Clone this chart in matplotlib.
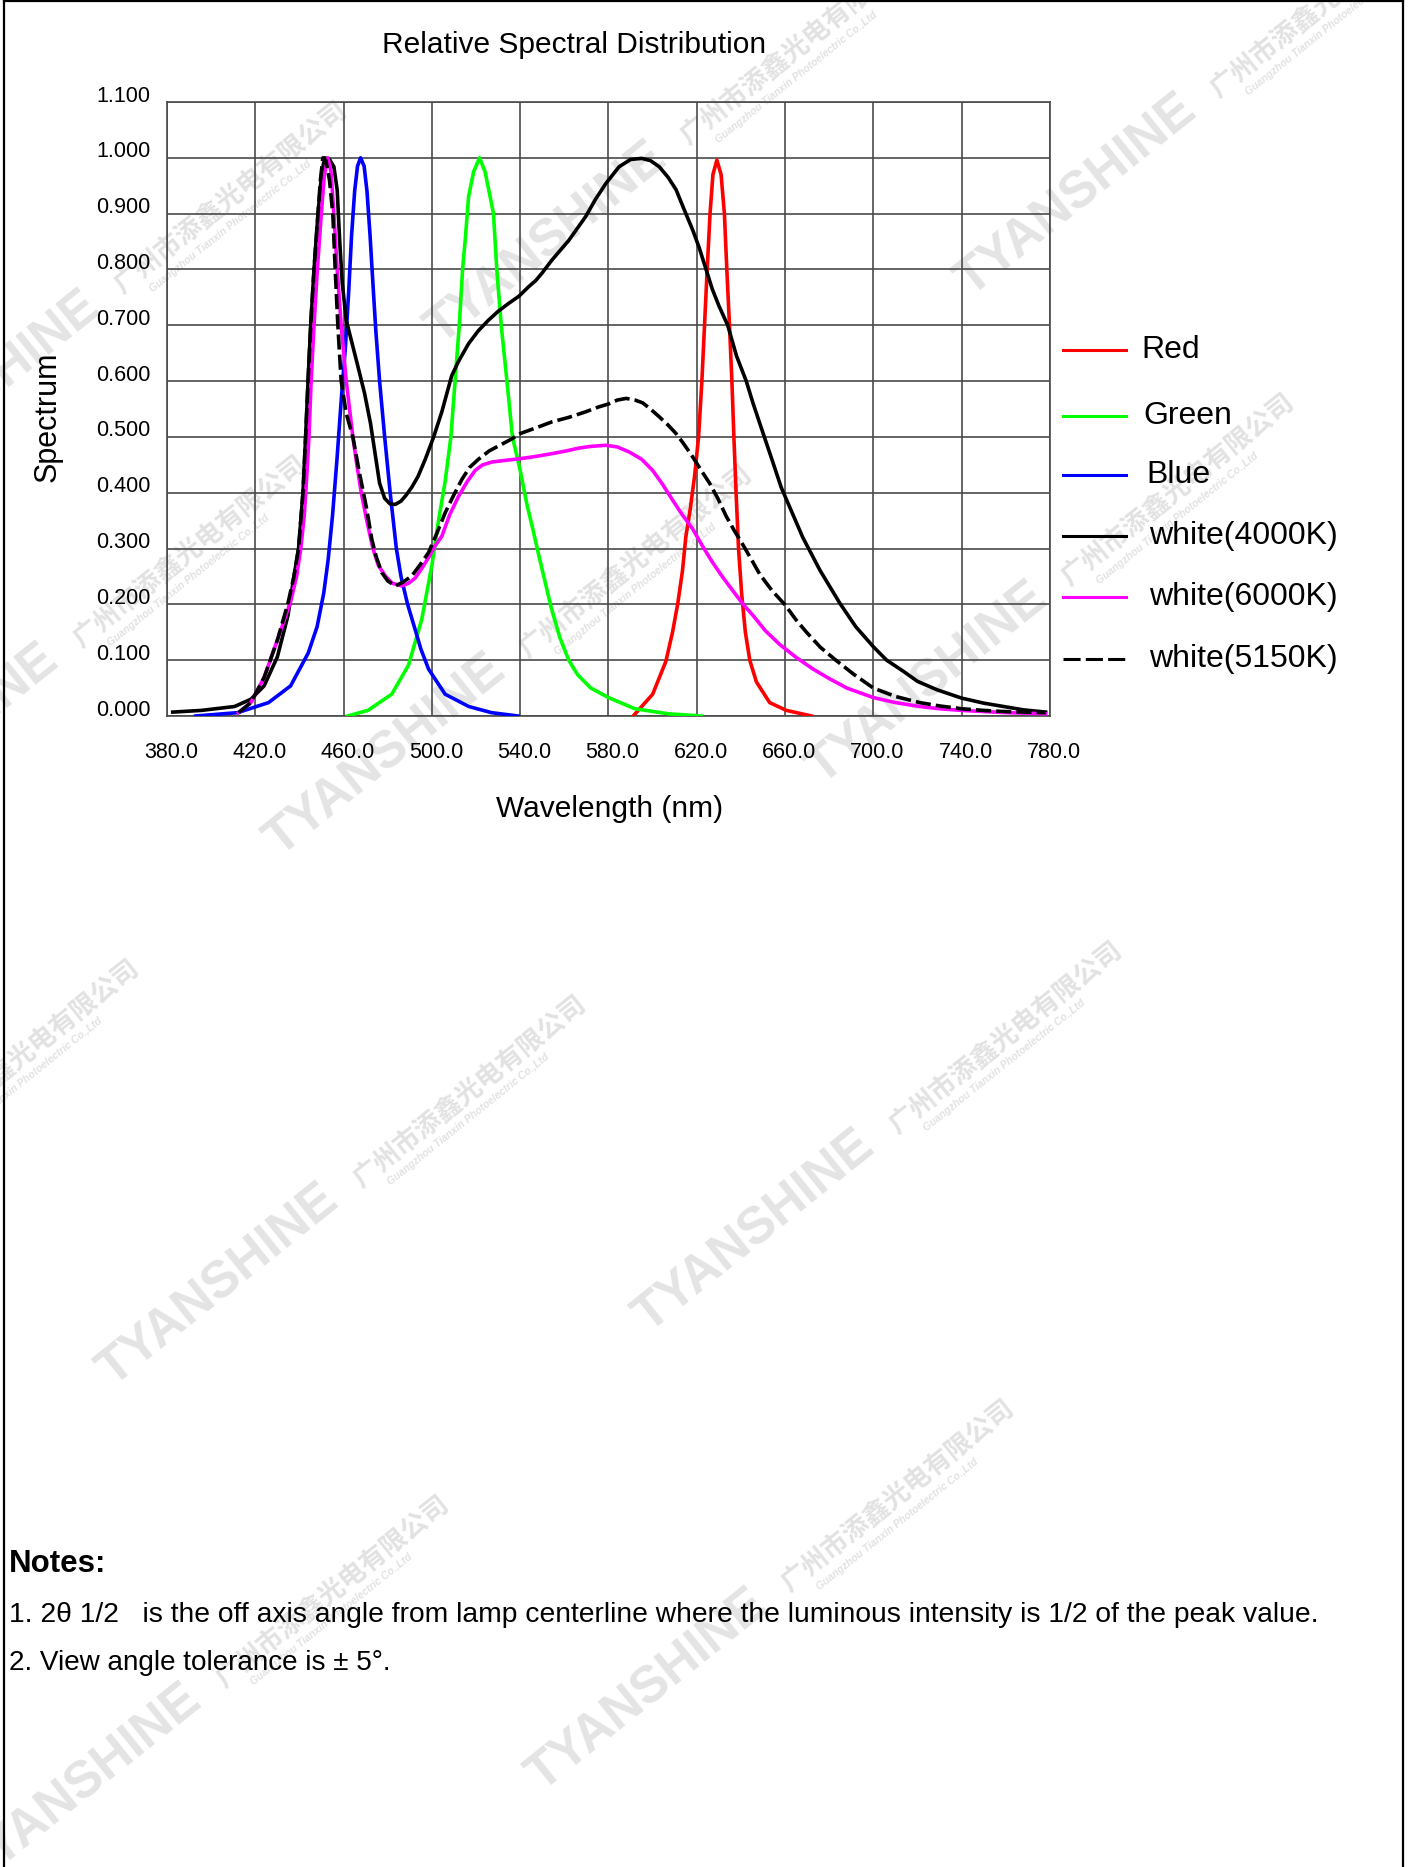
import numpy as np
import matplotlib
matplotlib.use("Agg")
import matplotlib.pyplot as plt
from matplotlib.lines import Line2D
from matplotlib.transforms import ScaledTranslation

# ---------------- data ----------------
blue_x = [393, 412, 426, 436, 444, 448, 451, 453, 455, 457, 459, 460.8, 462.3, 463.6, 465, 466.3, 467.7,
          469.3, 470.6, 472, 473.2, 474.6, 476.3, 478.6, 481.1, 483.9, 486, 489, 492.4, 495, 498.5, 506,
          516.7, 527, 539]
blue_y = [0.0, 0.006, 0.024, 0.054, 0.113, 0.16, 0.22, 0.28, 0.36, 0.46, 0.57, 0.66, 0.76, 0.86, 0.94,
          0.985, 1.0, 0.985, 0.94, 0.86, 0.78, 0.69, 0.6, 0.5, 0.4, 0.3, 0.25, 0.2, 0.155, 0.12, 0.084,
          0.039, 0.017, 0.006, 0.0]

green_x = [461.8, 471, 481.8, 489.4, 495.4, 500, 503, 506, 508.6, 510.5, 512.4, 513.9, 515.1, 516.6,
           518.9, 521.6, 524.1, 526.4, 527.9, 529.4, 531.4, 534, 536.5, 540, 543, 546, 548.3, 551, 554,
           558, 562, 566, 572, 580, 592, 607, 622]
green_y = [0.0, 0.01, 0.039, 0.091, 0.173, 0.27, 0.35, 0.42, 0.5, 0.6, 0.7, 0.8, 0.853, 0.93, 0.975,
           1.0, 0.975, 0.93, 0.9, 0.8, 0.7, 0.6, 0.5, 0.44, 0.38, 0.33, 0.29, 0.245, 0.195, 0.14, 0.1,
           0.074, 0.05, 0.033, 0.013, 0.004, 0.0]

red_x = [591.2, 600, 606, 609, 611.4, 613.5, 615, 617, 619, 620.8, 622.3, 623.5, 624.7, 626, 627.3,
         629.1, 631, 632.5, 633.6, 634.8, 635.9, 636.8, 637.8, 638.9, 640.3, 642, 644, 647, 653, 660.6,
         672]
red_y = [0.0, 0.039, 0.098, 0.15, 0.202, 0.26, 0.32, 0.37, 0.43, 0.5, 0.6, 0.7, 0.8, 0.9, 0.97, 0.996,
         0.97, 0.9, 0.8, 0.7, 0.6, 0.5, 0.4, 0.3, 0.22, 0.15, 0.1, 0.061, 0.024, 0.01, 0.0]

w4000_x = [382.6, 395.5, 410.6, 418, 424, 430, 434.8, 437.5, 439.6, 441.6, 442.8, 443.9, 445.1, 446.6,
           448.4, 450, 451.4, 453.5, 455.6, 457.1, 458.2, 459.4, 461.2, 463.5, 466.5, 469.5, 472.2,
           474.5, 476.3, 478.6, 481, 483.4, 486, 488.4, 490.9, 493.7, 497, 500.8, 504.5, 509, 512,
           516.6, 521, 525.6, 530, 534.7, 539.4, 543.8, 547, 549.8, 554.4, 562, 569.7, 574, 578.8,
           584.8, 590, 595, 599, 603, 607, 610.6, 614, 618.2, 621, 624.2, 627, 630, 634, 638, 642.4,
           645.5, 649.9, 654, 658.2, 662, 668, 675.8, 684.8, 692, 700, 706, 713.6, 720, 728.8, 740,
           750, 759, 768, 778]
w4000_y = [0.007, 0.01, 0.017, 0.03, 0.054, 0.106, 0.18, 0.25, 0.3, 0.4, 0.5, 0.6, 0.7, 0.8, 0.9, 0.97,
           1.0, 0.998, 0.984, 0.942, 0.853, 0.775, 0.709, 0.673, 0.626, 0.578, 0.524, 0.464, 0.417,
           0.39, 0.38, 0.379, 0.385, 0.396, 0.41, 0.429, 0.46, 0.5, 0.545, 0.61, 0.635, 0.667, 0.69,
           0.709, 0.725, 0.739, 0.752, 0.769, 0.78, 0.793, 0.817, 0.852, 0.895, 0.925, 0.954, 0.984,
           0.997, 0.999, 0.995, 0.984, 0.965, 0.943, 0.91, 0.87, 0.84, 0.8, 0.765, 0.735, 0.7, 0.645,
           0.6, 0.56, 0.508, 0.46, 0.41, 0.375, 0.32, 0.261, 0.202, 0.16, 0.124, 0.1, 0.08, 0.062,
           0.047, 0.032, 0.023, 0.017, 0.011, 0.007]

w6000_x = [412.4, 418, 424, 430, 433, 436, 438.7, 440.6, 442.2, 443.3, 444.3, 445.3, 446.6, 448.1,
           449.9, 451.3, 452.9, 454.3, 455.6, 457.1, 458.9, 461.2, 464.2, 466, 468, 470.5, 473.3,
           475.7, 478.9, 482, 486.4, 489.5, 492.4, 495.5, 498.5, 501.5, 504.5, 508, 512, 516, 519.6,
           523, 527.2, 533.3, 540, 547, 554.4, 561, 566.6, 572, 578.8, 584, 589.4, 595, 600, 604.5,
           609, 613.5, 618, 622.5, 627, 631.5, 636.4, 641, 645.5, 651, 657.6, 665, 672.7, 680, 688,
           700, 710, 721, 730, 740, 760, 778]
w6000_y = [0.006, 0.024, 0.069, 0.136, 0.17, 0.205, 0.25, 0.3, 0.36, 0.43, 0.5, 0.6, 0.7, 0.8, 0.9,
           0.97, 1.0, 0.975, 0.9, 0.8, 0.7, 0.6, 0.5, 0.45, 0.4, 0.35, 0.3, 0.27, 0.251, 0.238, 0.233,
           0.238, 0.247, 0.265, 0.284, 0.305, 0.322, 0.36, 0.393, 0.42, 0.44, 0.45, 0.455, 0.458,
           0.461, 0.465, 0.47, 0.475, 0.48, 0.483, 0.485, 0.482, 0.473, 0.46, 0.44, 0.415, 0.387,
           0.36, 0.336, 0.305, 0.276, 0.25, 0.224, 0.2, 0.18, 0.153, 0.128, 0.105, 0.084, 0.067, 0.05,
           0.033, 0.024, 0.017, 0.013, 0.01, 0.006, 0.004]

w5150_x = [412.4, 418, 424, 430, 434.8, 437.5, 439.6, 441.6, 442.8, 443.9, 445.1, 446.6, 448.4, 449.5,
           450.6, 452, 453.6, 455.1, 456.2, 457.4, 458.9, 461.2, 464.2, 467.2, 470.5, 472.8, 474.8,
           477.3, 480, 483.4, 487, 490.9, 494.5, 498.5, 502, 506, 509.8, 513.6, 517, 521.1, 526,
           531.7, 536, 540, 547, 554.4, 562, 569.7, 575, 580, 584, 588, 592, 595.5, 599, 603, 606.8,
           610.6, 614, 618, 622, 625.8, 629.5, 633.3, 637, 641, 644.8, 648.5, 654, 660, 665, 669.7,
           676, 683.3, 691, 700, 710, 721, 730, 740, 750, 759, 778]
w5150_y = [0.006, 0.024, 0.069, 0.136, 0.202, 0.25, 0.3, 0.4, 0.5, 0.6, 0.7, 0.8, 0.9, 0.96, 1.0,
           0.995, 0.96, 0.9, 0.8, 0.7, 0.6, 0.542, 0.5, 0.435, 0.37, 0.316, 0.285, 0.257, 0.242,
           0.233, 0.24, 0.251, 0.27, 0.293, 0.325, 0.364, 0.395, 0.424, 0.445, 0.46, 0.475, 0.487,
           0.496, 0.506, 0.516, 0.527, 0.535, 0.545, 0.553, 0.559, 0.566, 0.569, 0.566, 0.561, 0.55,
           0.536, 0.522, 0.506, 0.488, 0.465, 0.44, 0.417, 0.39, 0.358, 0.332, 0.306, 0.28, 0.254,
           0.225, 0.199, 0.172, 0.15, 0.123, 0.099, 0.075, 0.05, 0.035, 0.024, 0.018, 0.013, 0.01,
           0.008, 0.006]

series_labels = ["Red", "Green", "Blue", "white(4000K)", "white(6000K)", "white(5150K)"]
x_ticks = [380, 420, 460, 500, 540, 580, 620, 660, 700, 740, 780]
y_ticks = [0.0, 0.1, 0.2, 0.3, 0.4, 0.5, 0.6, 0.7, 0.8, 0.9, 1.0, 1.1]

title = "Relative Spectral Distribution"
xlabel = "Wavelength (nm)"
ylabel = "Spectrum"
notes_head = "Notes:"
notes = ["1. 2\u03b8 1/2   is the off axis angle from lamp centerline where the luminous intensity is 1/2 of the peak value.",
         "2. View angle tolerance is \u00b1 5\u00b0."]

# ---------------- figure ----------------
W, H = 1416, 1867
plt.rcParams['font.family'] = ['Liberation Sans', 'DejaVu Sans']
fig = plt.figure(figsize=(W / 100, H / 100), dpi=100)
fig.patch.set_facecolor('white')


def fx(px):
    return px / W


def fy(py):
    return 1 - py / H


# ---------------- watermarks ----------------
ang = 38.7
d = np.array([np.cos(np.radians(ang)), -np.sin(np.radians(ang))])
perp = np.array([np.sin(np.radians(ang)), np.cos(np.radians(ang))])
s = 1416 / 1189
anchors = [(815, 250), (235, 720), (690, 660), (95, 1165), (545, 1120), (-20, 1585),
           (455, 1505), (-105, 415), (-140, 712), (370, 290), (-280, 1135)]
for ax0, ay0 in anchors:
    p = np.array([ax0 * s, ay0 * s])
    fig.text(fx(p[0]), fy(p[1]), "TYANSHINE", rotation=ang, rotation_mode='anchor',
             ha='left', va='baseline', fontsize=37, fontweight='bold', color='#e4e4e4',
             zorder=-5)
    q = p + d * 318
    fig.text(fx(q[0]), fy(q[1]), "广州市添鑫光电有限公司", rotation=ang, rotation_mode='anchor',
             ha='left', va='baseline', fontsize=19, fontweight='bold', color='#e2e2e2',
             family=['Noto Sans CJK SC', 'DejaVu Sans'], zorder=-5)
    r = q + d * 25 + perp * 16
    fig.text(fx(r[0]), fy(r[1]), "Guangzhou Tianxin Photoelectric Co.,Ltd", rotation=ang,
             rotation_mode='anchor', ha='left', va='baseline', fontsize=7.5,
             fontweight='bold', fontstyle='italic', color='#e2e2e2', zorder=-5)

# page border
fig.add_artist(Line2D([fx(4), fx(4)], [fy(1), fy(H + 5)], color='black', lw=1.6))
fig.add_artist(Line2D([fx(1403), fx(1403)], [fy(1), fy(H + 5)], color='black', lw=1.6))
fig.add_artist(Line2D([fx(4), fx(1403)], [fy(1.5), fy(1.5)], color='black', lw=1.6))

# ---------------- axes ----------------
ax = fig.add_axes([fx(167), fy(716), fx(1050) - fx(167), fy(102) - fy(716)])
ax.patch.set_alpha(0)
ax.set_xlim(380, 780)
ax.set_ylim(0, 1.1)
ax.set_xticks(x_ticks)
ax.set_yticks(y_ticks)
ax.set_xticklabels([f"{v:.1f}" for v in x_ticks], fontsize=15.5)
ax.set_yticklabels([f"{v:.3f}" for v in y_ticks], fontsize=15.5)
ax.tick_params(length=0)
ax.tick_params(axis='y', pad=12)
ax.tick_params(axis='x', pad=19)
ax.grid(True, color='#4a4a4a', lw=1.2)
ax.set_axisbelow(True)
for sp in ax.spines.values():
    sp.set_color('#4a4a4a')
    sp.set_linewidth(1.2)

for lab in ax.get_yticklabels():
    lab.set_transform(lab.get_transform() + ScaledTranslation(0, 8.5 / 100, fig.dpi_scale_trans))
for lab in ax.get_xticklabels():
    lab.set_transform(lab.get_transform() + ScaledTranslation(4 / 100, 0, fig.dpi_scale_trans))

lw = 2.6
ax.plot(red_x, red_y, color='#ff0000', lw=lw, zorder=3, solid_joinstyle='round')
ax.plot(green_x, green_y, color='#00ff00', lw=lw, zorder=3, solid_joinstyle='round')
ax.plot(blue_x, blue_y, color='#0000ff', lw=lw, zorder=3, solid_joinstyle='round')
ax.plot(w4000_x, w4000_y, color='black', lw=lw, zorder=4, solid_joinstyle='round')
ax.plot(w6000_x, w6000_y, color='#ff00ff', lw=lw, zorder=4, solid_joinstyle='round')
ax.plot(w5150_x, w5150_y, color='black', lw=lw, dashes=(4.2, 1.4), zorder=5)

ax.set_xlabel(xlabel, fontsize=21.5)
ax.xaxis.set_label_coords((610 - 167) / 883, (716 - 809) / 614)
ax.xaxis.label.set_va('center')
ax.set_ylabel(ylabel, fontsize=22)
ax.yaxis.set_label_coords((48 - 167) / 883, (716 - 417) / 614)
ax.yaxis.label.set_va('center')

fig.text(fx(574), fy(45), title, ha='center', va='center', fontsize=21.5)

# ---------------- legend ----------------
leg_colors = ['#ff0000', '#00ff00', '#0000ff', 'black', '#ff00ff', 'black']
leg_y = [350, 416, 475, 536, 597, 659]
leg_tx = [1141, 1143, 1146, 1149, 1149, 1149]
for i, lab in enumerate(series_labels):
    kw = dict(dashes=(5.6, 1.7)) if i == 5 else {}
    fig.add_artist(Line2D([fx(1063), fx(1126)], [fy(leg_y[i]), fy(leg_y[i])],
                          color=leg_colors[i], lw=2.2, **kw))
    fig.text(fx(leg_tx[i]), fy(leg_y[i]), lab, ha='left', va='center', fontsize=23)

# ---------------- notes ----------------
fig.text(fx(9), fy(1564), notes_head, ha='left', va='center', fontsize=22.5, fontweight='bold')
fig.text(fx(9), fy(1615), notes[0], ha='left', va='center', fontsize=20.3)
fig.text(fx(9), fy(1663), notes[1], ha='left', va='center', fontsize=20.1)

fig.savefig("out.png", dpi=100, facecolor='white')
